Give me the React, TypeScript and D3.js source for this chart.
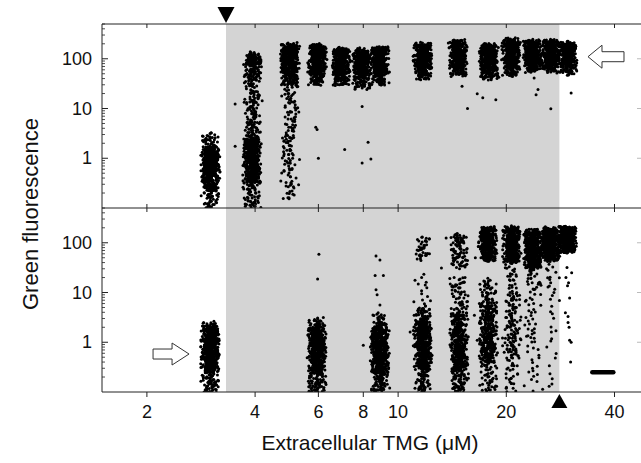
import React, { useMemo } from 'react';
import * as d3 from 'd3';

const W = 641;
const H = 463;

// TMG concentrations (µM) of each measured column
const tmgTop = [3.0, 3.93, 5.0, 5.95, 6.95, 7.93, 8.9, 11.7, 14.7, 17.9, 20.6, 23.7, 26.6, 29.6];
const tmgBottom = [3.0, 5.95, 8.9, 11.7, 14.8, 17.8, 20.7, 23.7, 26.6, 29.6];

// Fluorescence distribution of each column: [low, high, cell count]
const segmentsTop: [number, number, number][][] = [
  [[0.1, 0.22, 45], [0.22, 0.45, 130], [0.45, 1.6, 400], [1.6, 3.2, 40]],
  [[0.1, 0.3, 55], [0.3, 0.6, 120], [0.6, 2.5, 350], [2.5, 8, 70], [8, 40, 80], [40, 80, 80], [80, 125, 90]],
  [[0.15, 0.5, 25], [0.5, 1.2, 25], [1.2, 6, 45], [6, 30, 45], [30, 60, 100], [60, 200, 330]],
  [[30, 50, 60], [50, 190, 400]],
  [[30, 50, 60], [50, 160, 350]],
  [[25, 45, 60], [45, 150, 350]],
  [[30, 50, 60], [50, 170, 360]],
  [[40, 60, 50], [60, 200, 340]],
  [[45, 65, 40], [65, 230, 310]],
  [[40, 60, 60], [60, 190, 350]],
  [[45, 70, 50], [70, 250, 350]],
  [[55, 75, 50], [75, 230, 350]],
  [[55, 75, 50], [75, 230, 350]],
  [[50, 75, 50], [75, 210, 350]],
];
const segmentsBottom: [number, number, number][][] = [
  [[0.1, 0.25, 70], [0.25, 0.5, 150], [0.5, 2.0, 380], [2.0, 2.5, 20]],
  [[0.1, 0.25, 80], [0.25, 0.5, 150], [0.5, 2.0, 350], [2.0, 3.0, 30]],
  [[0.1, 0.25, 80], [0.25, 0.5, 160], [0.5, 2.0, 350], [2.0, 3.5, 35]],
  [[0.1, 0.3, 70], [0.3, 0.6, 140], [0.6, 2.5, 340], [2.5, 5, 50], [5, 25, 15], [45, 130, 40]],
  [[0.1, 0.3, 80], [0.3, 1, 200], [1, 4, 190], [4, 20, 60], [32, 150, 90]],
  [[0.1, 0.4, 50], [0.4, 1, 120], [1, 6, 220], [6, 18, 50], [45, 200, 330]],
  [[0.1, 0.5, 30], [0.5, 3, 80], [3, 10, 45], [10, 40, 25], [41, 210, 380]],
  [[0.1, 1, 20], [1, 10, 30], [10, 30, 25], [31, 180, 450]],
  [[0.1, 1, 8], [1, 10, 12], [10, 45, 15], [45, 200, 450]],
  [[65, 210, 420]],
];

// Isolated cells: [TMG, fluorescence]
const outliersTop: [number, number][] = [
  [3.52, 12.3], [3.52, 1.75], [5.9, 4.2], [5.95, 3.8], [6.0, 1.0], [7.1, 1.5],
  [7.94, 11], [7.94, 0.8], [8.25, 2.1], [8.4, 0.97],
  [15.06, 28], [15.6, 10], [16.6, 19.7], [17.2, 16.4], [18.7, 15],
  [23.9, 41], [24.5, 24], [24.2, 19], [26.6, 9.9], [30.3, 20.6],
];
const outliersBottom: [number, number][] = [
  [6.02, 59], [5.97, 18.6],
  [8.68, 54], [8.9, 45], [8.63, 22], [9.1, 22], [8.68, 11.3], [8.74, 9], [8.9, 5.6], [8.8, 3.9],
  [8.0, 0.87], [10.8, 1.6], [13.2, 31], [13.6, 124], [16.4, 49.7], [16.3, 3.5], [16.6, 1.1],
  [29.5, 32], [29.8, 15.8], [29.6, 13.6], [30.0, 7.8], [29.2, 3.9], [29.7, 3.3], [29.7, 2.5],
  [29.9, 2.0], [30.0, 1.1], [30.3, 1.0], [30.2, 0.4], [29.3, 20], [30.4, 25],
];

const xTicks = [2, 4, 6, 8, 10, 20, 40];
const yMajor = [1, 10, 100];
const yMinor = [0.2, 0.3, 0.4, 0.5, 0.6, 0.7, 0.8, 0.9, 2, 3, 4, 5, 6, 7, 8, 9, 20, 30, 40, 50, 60, 70, 80, 90, 200, 300, 400, 500];
const shadeRange = [3.32, 28.1];
const barRange = [34.7, 39.7];
const barLevel = 0.25;
const arrowTop: [number, number] = [33.75, 110];
const arrowBottom: [number, number] = [2.62, 0.58];

const L = 102, R = 641;
const topPanel = [24, 208];
const botPanel = [208, 392];

const x = d3.scaleLog().domain([1.5, 47.4]).range([L, R]);
const yTop = d3.scaleLog().domain([0.1, 500]).range([topPanel[1], topPanel[0]]);
const yBot = d3.scaleLog().domain([0.1, 500]).range([botPanel[1], botPanel[0]]);

const G1 = 0.6180339887498949;

// deterministic placement jitter (layout only)
function hash(k: number) {
  const s = Math.sin(k * 12.9898 + 78.233) * 43758.5453;
  return s - Math.floor(s);
}
function tri(w: number) {
  return w < 0.5 ? -1 + Math.sqrt(2 * w) : 1 - Math.sqrt(2 * (1 - w));
}

type P = { t: number; v: number; dx: number; dy: number };

function buildPoints(tmgs: number[], segs: [number, number, number][][], seed: number): P[] {
  const pts: P[] = [];
  let k = seed;
  tmgs.forEach((t, ci) => {
    k += 37 * (ci + 1);
    segs[ci].forEach(([lo, hi, n]) => {
      for (let i = 0; i < n; i++) {
        k++;
        const u = (0.5 + k * G1) % 1;
        const v = Math.exp(Math.log(lo) + u * (Math.log(hi) - Math.log(lo)));
        pts.push({ t, v, dx: tri(hash(k)), dy: tri(hash(k + 7919.5)) });
      }
    });
  });
  return pts;
}

const FONT = '"Liberation Sans", Arial, sans-serif';

export default function App() {
  const ptsTop = useMemo(() => buildPoints(tmgTop, segmentsTop, 11), []);
  const ptsBot = useMemo(() => buildPoints(tmgBottom, segmentsBottom, 5003), []);
  const half = 10;
  const vj = 2.5;
  const rr = 1.5;

  const arrowLeft = (tx: number, ty: number) =>
    `M${tx},${ty} L${tx + 14},${ty - 11.5} L${tx + 14},${ty - 5} L${tx + 36},${ty - 5} L${tx + 36},${ty + 5} L${tx + 14},${ty + 5} L${tx + 14},${ty + 11.5} Z`;
  const arrowRight = (tx: number, ty: number) =>
    `M${tx},${ty} L${tx - 17},${ty - 11} L${tx - 17},${ty - 5} L${tx - 36},${ty - 5} L${tx - 36},${ty + 5} L${tx - 17},${ty + 5} L${tx - 17},${ty + 11} Z`;

  const atx = x(arrowTop[0]), aty = yTop(arrowTop[1]);
  const abx = x(arrowBottom[0]), aby = yBot(arrowBottom[1]);
  const sx0 = x(shadeRange[0]), sx1 = x(shadeRange[1]);

  const axisColor = '#222';

  return (
    <svg width={W} height={H} style={{ position: 'absolute', left: 0, top: 0, background: '#fff' }} fontFamily={FONT}>
      <defs>
        <clipPath id="clipTop"><rect x={L} y={topPanel[0]} width={R - L} height={topPanel[1] - topPanel[0]} /></clipPath>
        <clipPath id="clipBot"><rect x={L} y={botPanel[0]} width={R - L} height={botPanel[1] - botPanel[0]} /></clipPath>
      </defs>
      <rect x={0} y={0} width={W} height={H} fill="#fff" />
      {/* shaded bistable region */}
      <rect x={sx0} y={topPanel[0]} width={sx1 - sx0} height={botPanel[1] - topPanel[0]} fill="#d4d4d4" />

      {/* cells */}
      <g clipPath="url(#clipTop)">
        {ptsTop.map((p, i) => (
          <circle key={i} cx={x(p.t) + p.dx * half} cy={yTop(p.v) + p.dy * vj} r={rr} fill="#000" />
        ))}
        {outliersTop.map(([t, v], i) => (
          <circle key={'o' + i} cx={x(t)} cy={yTop(v)} r={1.5} fill="#000" />
        ))}
      </g>
      <g clipPath="url(#clipBot)">
        {ptsBot.map((p, i) => (
          <circle key={i} cx={x(p.t) + p.dx * half} cy={yBot(p.v) + p.dy * vj} r={rr} fill="#000" />
        ))}
        {outliersBottom.map(([t, v], i) => (
          <circle key={'o' + i} cx={x(t)} cy={yBot(v)} r={1.5} fill="#000" />
        ))}
        <line x1={x(barRange[0])} x2={x(barRange[1])} y1={yBot(barLevel)} y2={yBot(barLevel)} stroke="#000" strokeWidth={4.5} strokeLinecap="round" />
      </g>

      {/* frame */}
      <line x1={L} x2={L} y1={topPanel[0]} y2={botPanel[1]} stroke={axisColor} strokeWidth={1} />
      <line x1={L} x2={R} y1={topPanel[0]} y2={topPanel[0]} stroke={axisColor} strokeWidth={1} />
      <line x1={L} x2={R} y1={topPanel[1]} y2={topPanel[1]} stroke={axisColor} strokeWidth={1} />
      <line x1={L} x2={R} y1={botPanel[1]} y2={botPanel[1]} stroke={axisColor} strokeWidth={1} />

      {/* x ticks */}
      {xTicks.map((t) => (
        <g key={'xt' + t}>
          <line x1={x(t)} x2={x(t)} y1={topPanel[0]} y2={topPanel[0] + 4} stroke={axisColor} />
          <line x1={x(t)} x2={x(t)} y1={topPanel[1] - 4} y2={topPanel[1] + 4} stroke={axisColor} />
          <line x1={x(t)} x2={x(t)} y1={botPanel[1]} y2={botPanel[1] + 5} stroke={axisColor} />
          <text x={x(t)} y={418} textAnchor="middle" fontSize={18} fill="#111">{t}</text>
        </g>
      ))}

      {/* y ticks, both panels */}
      {[yTop, yBot].map((ys, pi) => (
        <g key={'yp' + pi}>
          {yMajor.map((v) => (
            <g key={'ym' + v}>
              <line x1={L} x2={L + 6} y1={ys(v)} y2={ys(v)} stroke={axisColor} />
              <line x1={R - 4} x2={R} y1={ys(v)} y2={ys(v)} stroke="#bbb" />
              <text x={92} y={ys(v)} textAnchor="end" dominantBaseline="central" fontSize={18} fill="#111">{v}</text>
            </g>
          ))}
          {yMinor.map((v) => (
            <line key={'yn' + v} x1={L} x2={L + 3} y1={ys(v)} y2={ys(v)} stroke={axisColor} strokeWidth={0.8} />
          ))}
        </g>
      ))}

      {/* markers */}
      <path d={`M${sx0},${topPanel[0] - 1} L${sx0 - 8.5},${7} L${sx0 + 8.5},${7} Z`} fill="#000" />
      <path d={`M${sx1},${botPanel[1] + 2} L${sx1 - 8},${408} L${sx1 + 8},${408} Z`} fill="#000" />
      <path d={arrowLeft(atx, aty)} fill="#fff" stroke="#333" strokeWidth={1} />
      <path d={arrowRight(abx, aby)} fill="#fff" stroke="#333" strokeWidth={1} />

      {/* axis titles */}
      <text x={370} y={450} textAnchor="middle" fontSize={21} fill="#111">Extracellular TMG (μM)</text>
      <text transform="translate(38,214) rotate(-90)" textAnchor="middle" fontSize={22} fill="#111">Green fluorescence</text>
    </svg>
  );
}
